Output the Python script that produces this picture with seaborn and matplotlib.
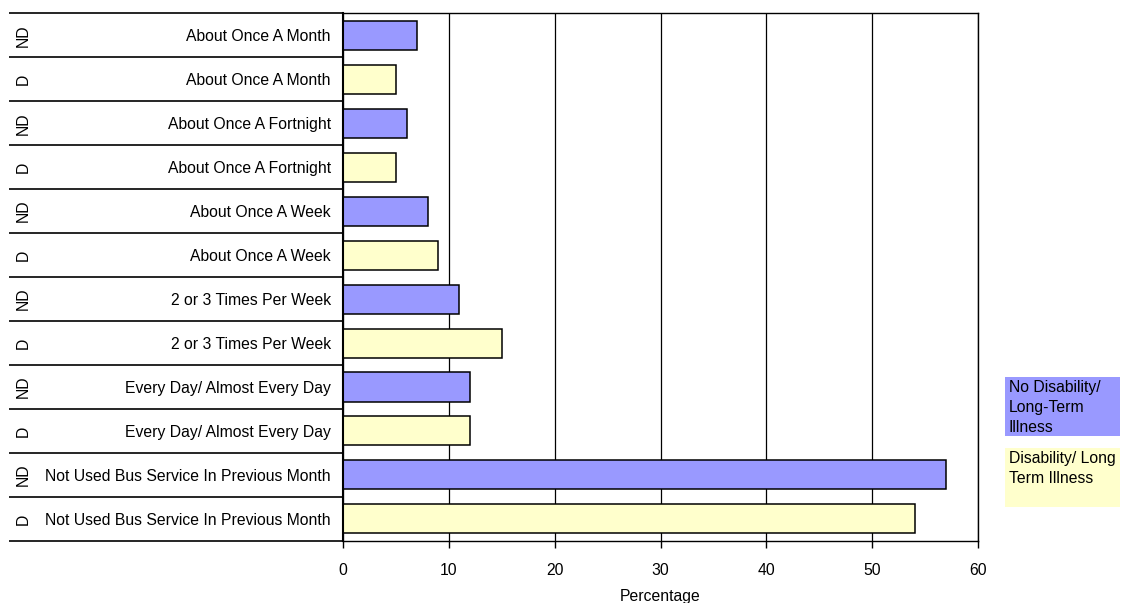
import pandas as pd
import matplotlib.pyplot as plt
import matplotlib.patches as mpatches
import seaborn as sns

# rows from top to bottom
groups = ["ND", "D", "ND", "D", "ND", "D", "ND", "D", "ND", "D", "ND", "D"]
frequency = [
    "About Once A Month", "About Once A Month",
    "About Once A Fortnight", "About Once A Fortnight",
    "About Once A Week", "About Once A Week",
    "2 or 3 Times Per Week", "2 or 3 Times Per Week",
    "Every Day/ Almost Every Day", "Every Day/ Almost Every Day",
    "Not Used Bus Service In Previous Month", "Not Used Bus Service In Previous Month",
]
percentage = [7, 5, 6, 5, 8, 9, 11, 15, 12, 12, 57, 54]
x_ticks = [0, 10, 20, 30, 40, 50, 60]
legend_labels = {"ND": "No Disability/\nLong-Term\nIllness", "D": "Disability/ Long\nTerm Illness"}
colors = {"ND": "#9999FF", "D": "#FFFFCC"}

df = pd.DataFrame({"group": groups, "frequency": frequency, "percentage": percentage})
df["row"] = [f"{g}|{f}|{i}" for i, (g, f) in enumerate(zip(groups, frequency))]

sns.set_style("white")
plt.rcParams["font.family"] = ["Liberation Sans", "DejaVu Sans"]
plt.rcParams["text.color"] = "black"
plt.rcParams["xtick.color"] = "black"
plt.rcParams["axes.labelcolor"] = "black"

fs = 11.3
fig = plt.figure(figsize=(11.21, 6.03), dpi=100)
ax = fig.add_axes([0.306, 0.103, 0.5665, 0.875])

sns.barplot(data=df, x="percentage", y="row", hue="group", palette=colors,
            dodge=False, width=0.66, edgecolor="black", linewidth=1.1,
            saturation=1, legend=False, ax=ax, orient="h")

ax.set_xlim(0, 60)
ax.set_xticks(x_ticks)
ax.set_ylim(len(df) - 0.5, -0.5)
ax.set_yticks([])
ax.set_ylabel("")
ax.set_xlabel("Percentage", fontsize=fs, labelpad=8)
ax.tick_params(axis="x", direction="out", length=5, width=1, color="black",
               labelsize=fs, bottom=True, pad=11)
ax.set_axisbelow(True)
ax.grid(axis="x", color="black", linewidth=0.9)
for s in ax.spines.values():
    s.set_color("black")
    s.set_linewidth(1)
ax.spines["left"].set_linewidth(1.5)

# label table on the left
ytr = ax.get_yaxis_transform()
bounds = [i - 0.5 for i in range(len(df) + 1)]
ax.hlines(bounds, -0.526, 0, transform=ytr, color="black", linewidth=1.2, clip_on=False)
for i, (g, f) in enumerate(zip(groups, frequency)):
    ax.text(-0.019, i + 0.03, f, transform=ytr, ha="right", va="center", fontsize=fs)
    ax.text(-0.5035, i, g, transform=ytr, ha="center", va="center", fontsize=fs,
            rotation=90)

# legend boxes
for key, (y0, y1) in zip(["ND", "D"], [(377, 436), (448, 507)]):
    fig.patches.append(mpatches.Rectangle((1005 / 1121, 1 - y1 / 603), 115 / 1121,
                                          (y1 - y0) / 603, transform=fig.transFigure,
                                          facecolor=colors[key], edgecolor="none"))
    fig.text(1009 / 1121, 1 - (y0 + 3) / 603, legend_labels[key], ha="left", va="top",
             fontsize=fs, linespacing=1.4)

fig.savefig("out.png", dpi=100)
